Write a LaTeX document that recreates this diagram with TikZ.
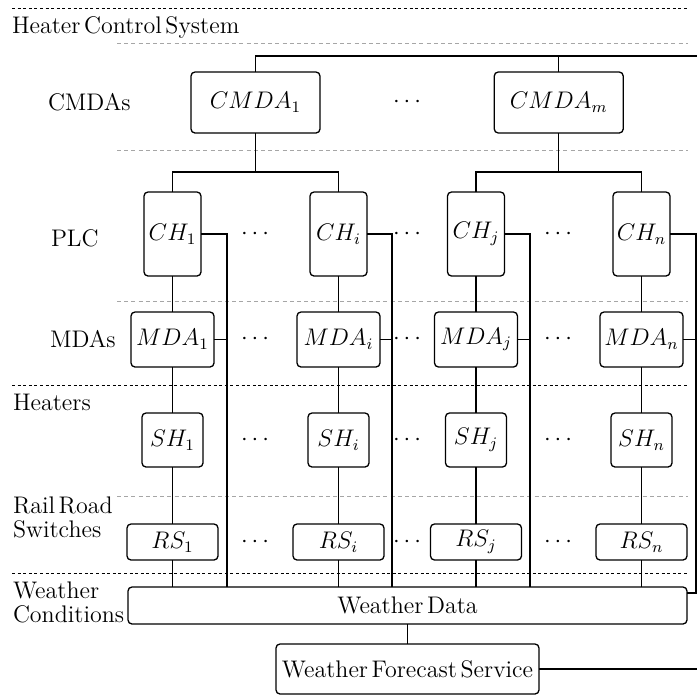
\documentclass[tikz,border=0pt]{standalone}
\usepackage{fontspec}
\setmainfont{Latin Modern Roman}
\newcommand{\lblfont}{\fontsize{12}{12}\selectfont\spaceskip=1.8pt\relax}
\tikzset{
  txt/.style={font=\lblfont, inner sep=0pt, outer sep=0pt},
  box/.style={draw, rounded corners=2pt, line width=0.65pt, inner sep=0pt, outer sep=0pt, font=\lblfont},
  cmdabox/.style={box, minimum width=64.5pt, minimum height=30.5pt},
  chbox/.style={box, minimum width=28.5pt, minimum height=42pt},
  mdabox/.style={box, minimum width=41.5pt, minimum height=27.5pt},
  shbox/.style={box, minimum width=30.5pt, minimum height=27pt},
  rsbox/.style={box, minimum width=45.5pt, minimum height=18pt},
  wire/.style={line width=0.65pt},
  sepdark/.style={dash pattern=on 1.5pt off 1.3pt, line width=0.5pt},
  seplight/.style={dash pattern=on 2pt off 1.6pt, line width=0.5pt, draw=gray!70},
  dotsnode/.style={font=\lblfont, inner sep=0pt},
}
\begin{document}
\begin{tikzpicture}[x=0.5pt, y=-0.5pt]
\useasboundingbox (0,0) rectangle (697,697);

% layer separators
\draw[sepdark] (12,8) -- (688,8);
\draw[seplight] (117,43) -- (688,43);
\draw[seplight] (117,150) -- (688,150);
\draw[seplight] (117,301) -- (688,301);
\draw[sepdark] (12,385) -- (688,385);
\draw[seplight] (117,496) -- (688,496);
\draw[sepdark] (12,573) -- (688,573);

% layer labels
\node[txt, anchor=base west] (lhcs) at (12,33) {Heater Control System};
\node[txt, anchor=base west] (lcmda) at (48,110) {CMDAs};
\node[txt, anchor=base west] (lplc) at (51,246) {PLC};
\node[txt, anchor=base west] (lmda) at (50,347) {MDAs};
\node[txt, anchor=base west] (lheat) at (13,410) {Heaters};
\node[txt, anchor=base west, align=left] (lrail) at (13,537) {Rail Road\\Switches};
\node[txt, anchor=base west, align=left] (lweath) at (13,622) {Weather\\Conditions};

% concentrators
\node[cmdabox] (cmda1) at (255.5,102.5) {$CMDA_1$};
\node[cmdabox] (cmdam) at (558.75,102.5) {$CMDA_m$};
\node[dotsnode] (dcm) at (407,102) {$\cdots$};

% columns
\foreach \n/\x/\s in {1/172.5/1, 2/338.5/i, 3/476/j, 4/641.5/n} {
  \node[chbox] (ch\n) at (\x,234) {$CH_{\s}$};
  \node[mdabox] (mda\n) at (\x,339.5) {$MDA_{\s}$};
  \node[shbox] (sh\n) at (\x,440) {$SH_{\s}$};
  \node[rsbox] (rs\n) at (\x,542) {$RS_{\s}$};
}
\foreach \k/\x in {a/255, b/407, c/558} {
  \node[dotsnode] (dch\k) at (\x,234) {$\cdots$};
  \node[dotsnode] (dmda\k) at (\x,339) {$\cdots$};
  \node[dotsnode] (dsh\k) at (\x,440) {$\cdots$};
  \node[dotsnode] (drs\k) at (\x,542) {$\cdots$};
}

% weather
\node[box, minimum width=279.5pt, minimum height=18.5pt] (wd) at (407.5,605.5) {Weather Data};
\node[box, minimum width=131.5pt, minimum height=25pt] (wfs) at (407.5,669) {Weather Forecast Service};

% buses
\coordinate (topR) at (697,56);
\coordinate (busL) at (255.5,172);
\coordinate (busR) at (558.75,172);
\draw[wire] (cmda1.north) |- (topR);
\draw[wire] (cmdam.north) -- (cmdam.north |- topR);
\draw[wire] (cmda1.south) -- (busL);
\draw[wire] (cmdam.south) -- (busR);
\draw[wire] (ch1.north) |- (busL) -| (ch2.north);
\draw[wire] (ch3.north) |- (busR) -| (ch4.north);

% vertical chains
\foreach \n in {1,2,3,4} {
  \draw[wire] (ch\n.south) -- (mda\n.north);
  \draw[wire] (mda\n.south) -- (sh\n.north);
  \draw[wire] (sh\n.south) -- (rs\n.north);
  \draw[wire] (rs\n.south) -- (rs\n.south |- wd.north);
}

% taps to weather data
\foreach \n/\x in {1/227, 2/392, 3/530} {
  \coordinate (tap\n) at (\x,0);
  \draw[wire] (ch\n.east) -| (tap\n |- wd.north);
  \draw[wire] (mda\n.east) -- (mda\n.east -| tap\n);
}
\coordinate (tap4) at (696,593);
\draw[wire] (ch4.east) -| (tap4) -- (tap4 -| wd.east);
\draw[wire] (mda4.east) -- (mda4.east -| tap4);

\draw[wire] (wd.south) -- (wfs.north);
\draw[wire] (wfs.east) -- (wfs.east -| topR);
\end{tikzpicture}
\end{document}
